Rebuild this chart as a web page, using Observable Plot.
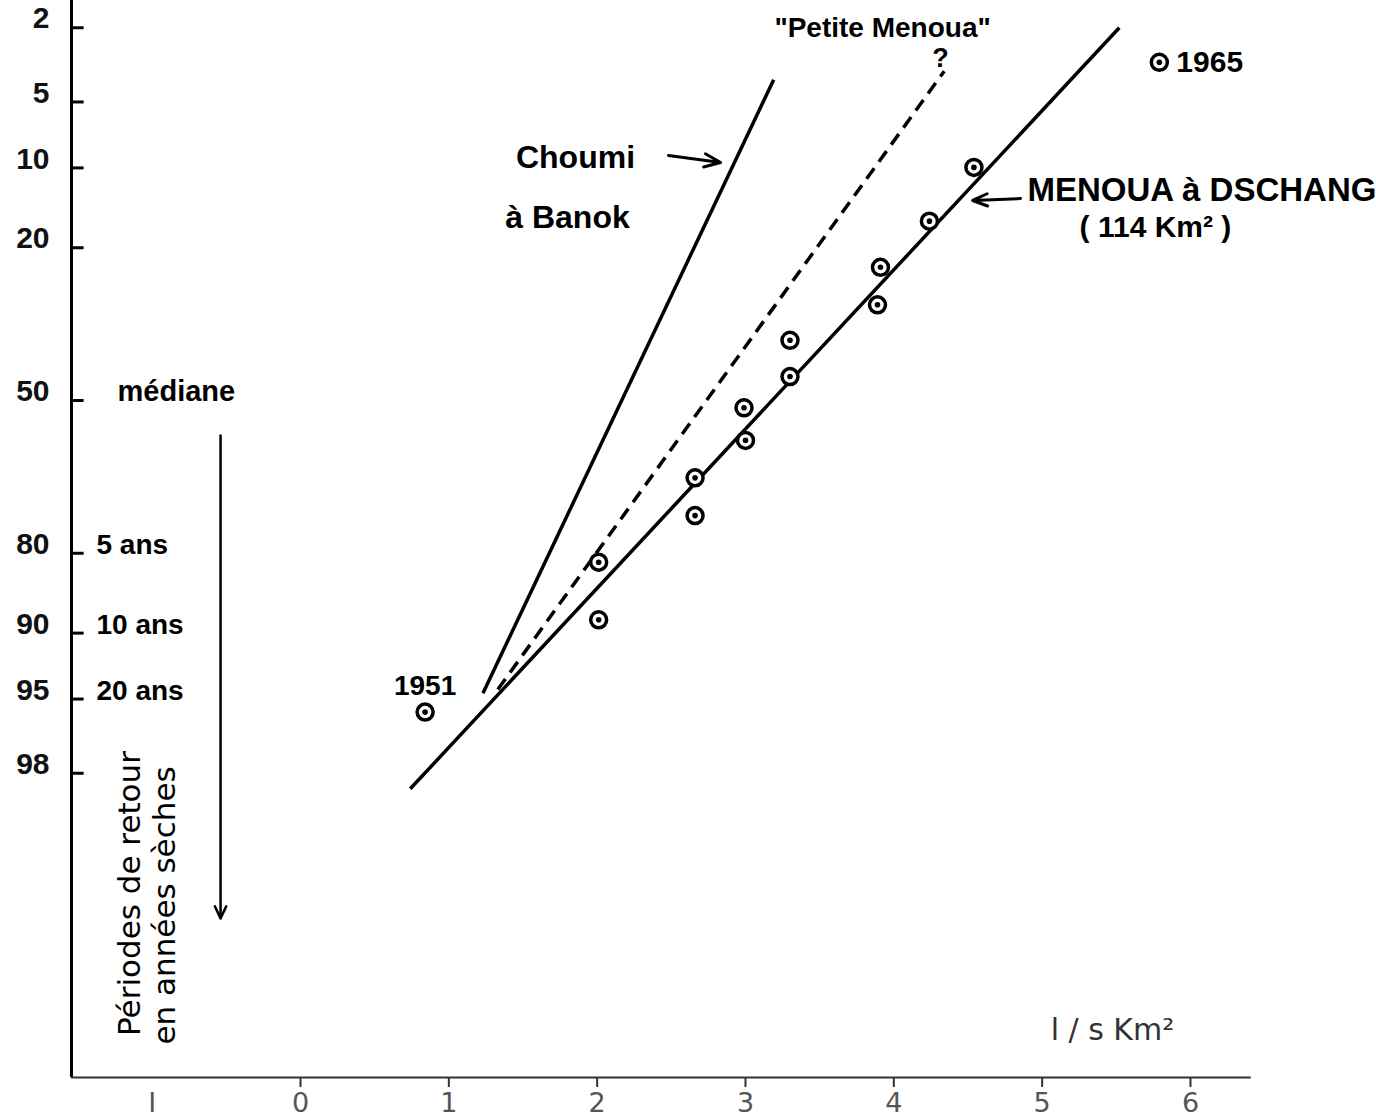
<!DOCTYPE html>
<html>
<head>
<meta charset="utf-8">
<script src="https://cdn.jsdelivr.net/npm/d3@7"></script>
<script src="https://cdn.jsdelivr.net/npm/@observablehq/plot@0.6"></script>
<style>
  html, body { margin: 0; padding: 0; background: #fff; }
  #chart svg { display: block; }
</style>
</head>
<body>
<div id="chart"></div>
<script>
// ---------- DATA ----------
// Observed dry-season specific discharges, Menoua à Dschang (l/s km²) and their frequencies (%)
const menouaQ    = [0.84, 2.01, 2.01, 2.66, 2.66, 2.99, 3.00, 3.30, 3.30, 3.91, 3.89, 4.24, 4.54, 5.79];
const menouaFreq = [95.7, 81.35, 88.65, 66.5, 73.7, 51.6, 58.7, 37.0, 44.75, 23.15, 29.9, 16.15, 9.95, 3.12];
const pointYears = ["1951", "", "", "", "", "", "", "", "", "", "", "", "", "1965"];

// Fitted lines (start / end): specific discharge and frequency
const lineNames  = ["MENOUA à DSCHANG", "Choumi à Banok", "Petite Menoua"];
const lineDashed = [false, false, true];
const lineQ1 = [0.74, 1.23, 1.33];
const lineF1 = [98.38, 94.66, 94.43];
const lineQ2 = [5.52, 3.19, 4.34];
const lineF2 = [2.0, 3.86, 3.48];

// Axis ticks
const freqTicks   = [2, 5, 10, 20, 50, 80, 90, 95, 98];
const periodLabels = ["5 ans", "10 ans", "20 ans"];
const periodFreq   = [80, 90, 95];
const qTickMarks  = [0, 1, 2, 3, 4, 5, 6];
const qTickValues = [-1, 0, 1, 2, 3, 4, 5, 6];
const qTickLabels = ["I", "0", "1", "2", "3", "4", "5", "6"];

// ---------- probability (Gauss) scale ----------
function probit(p) {
  const a = [-3.969683028665376e+01, 2.209460984245205e+02, -2.759285104469687e+02, 1.383577518672690e+02, -3.066479806614716e+01, 2.506628277459239e+00];
  const b = [-5.447609879822406e+01, 1.615858368580409e+02, -1.556989798598866e+02, 6.680131188771972e+01, -1.328068155288572e+01];
  const c = [-7.784894002430293e-03, -3.223964580411365e-01, -2.400758277161838e+00, -2.549732539343734e+00, 4.374664141464968e+00, 2.938163982698783e+00];
  const d = [7.784695709041462e-03, 3.224671290700398e-01, 2.445134137142996e+00, 3.754408661907416e+00];
  const pl = 0.02425, ph = 1 - pl;
  let q, r;
  if (p < pl) {
    q = Math.sqrt(-2 * Math.log(p));
    return (((((c[0]*q+c[1])*q+c[2])*q+c[3])*q+c[4])*q+c[5]) / ((((d[0]*q+d[1])*q+d[2])*q+d[3])*q+1);
  } else if (p <= ph) {
    q = p - 0.5; r = q * q;
    return (((((a[0]*r+a[1])*r+a[2])*r+a[3])*r+a[4])*r+a[5])*q / (((((b[0]*r+b[1])*r+b[2])*r+b[3])*r+b[4])*r+1);
  } else {
    q = Math.sqrt(-2 * Math.log(1 - p));
    return -(((((c[0]*q+c[1])*q+c[2])*q+c[3])*q+c[4])*q+c[5]) / ((((d[0]*q+d[1])*q+d[2])*q+d[3])*q+1);
  }
}
const P = f => probit(f / 100);

// scale extents
const X0 = -1.5439, X1 = 7.2541;     // l/s km²
const Z0 = -2.2039, Z1 = 3.7300;     // normal variate

// tables built from the arrays
const points = menouaQ.map((q, i) => ({q, z: P(menouaFreq[i]), year: pointYears[i]}));
const lines = lineNames.map((name, i) => ({
  name, dashed: lineDashed[i],
  x1: lineQ1[i], y1: P(lineF1[i]), x2: lineQ2[i], y2: P(lineF2[i])
}));

const BOLD = "'Liberation Sans', Arial, sans-serif";
const DJ = "'DejaVu Sans', sans-serif";

const chart = Plot.plot({
  width: 1376,
  height: 1119,
  marginLeft: 71,
  marginRight: 0,
  marginTop: 0,
  marginBottom: 42,
  x: {domain: [X0, X1], axis: null},
  y: {domain: [Z0, Z1], reverse: true, axis: null},
  style: {background: "#fff", color: "#000", fontFamily: BOLD},
  marks: [
    // axes lines
    Plot.ruleX([X0], {y1: Z0, y2: Z1, stroke: "#000", strokeWidth: 3}),
    Plot.ruleY([Z1], {x1: X0, x2: 6.41, stroke: "#333", strokeWidth: 2}),
    // y ticks (inward) and labels
    Plot.ruleY(freqTicks, {y: d => P(d), x1: X0, x2: X0 + 0.085, stroke: "#000", strokeWidth: 3}),
    Plot.text(freqTicks, {y: d => P(d), frameAnchor: "left", dx: -22, dy: -9, textAnchor: "end",
      text: d => String(d), fontSize: 30, fontWeight: "bold", fill: "#111"}),
    // return period labels
    Plot.text([50], {y: d => P(d), frameAnchor: "left", dx: 46, dy: -9, textAnchor: "start",
      text: () => "médiane", fontSize: 29, fontWeight: "bold"}),
    Plot.text(periodLabels, {y: (d, i) => P(periodFreq[i]), frameAnchor: "left", dx: 25, dy: -8, textAnchor: "start",
      text: d => d, fontSize: 28, fontWeight: "bold"}),
    // x ticks (outward) and labels
    Plot.ruleX(qTickMarks, {x: d => d, y1: Z1, y2: Z1 + 0.055, stroke: "#333", strokeWidth: 2}),
    Plot.text(qTickValues, {x: d => d, frameAnchor: "bottom", dy: 34, text: (d, i) => qTickLabels[i],
      fontSize: 27, fill: "#555", fontFamily: DJ}),
    Plot.text(["l / s Km²"], {x: 5.474, y: P(99.974), text: d => d, fontSize: 30, fill: "#333", fontFamily: DJ}),

    // rotated axis title and arrow
    Plot.text(["Périodes de retour"], {x: -1.146, y: P(99.670), text: d => d, rotate: -90, fontSize: 31, fontFamily: DJ}),
    Plot.text(["en années sèches"], {x: -0.910, y: P(99.730), text: d => d, rotate: -90, fontSize: 31, fontFamily: DJ}),
    Plot.arrow([0], {x1: -0.539, y1: P(57.65), x2: -0.539, y2: P(99.784), stroke: "#000", strokeWidth: 2.5, headLength: 8, headAngle: 50}),

    // fitted lines
    Plot.link(lines.filter(d => !d.dashed), {x1: "x1", y1: "y1", x2: "x2", y2: "y2", stroke: "#000", strokeWidth: 3.5}),
    Plot.link(lines.filter(d => d.dashed), {x1: "x1", y1: "y1", x2: "x2", y2: "y2", stroke: "#000", strokeWidth: 3.5, strokeDasharray: "13,8"}),

    // observations
    Plot.dot(points, {x: "q", y: "z", r: 8, stroke: "#000", strokeWidth: 3.5, fill: "#fff"}),
    Plot.dot(points, {x: "q", y: "z", r: 2.8, fill: "#000"}),
    Plot.text(points.filter(d => d.year === "1951"), {x: "q", y: "z", text: "year", dy: -26, fontSize: 28, fontWeight: "bold"}),
    Plot.text(points.filter(d => d.year === "1965"), {x: "q", y: "z", text: "year", dx: 17, textAnchor: "start", fontSize: 30, fontWeight: "bold"}),

    // annotations
    Plot.text(["Choumi"], {x: 1.854, y: P(9.03), text: d => d, fontSize: 32, fontWeight: "bold"}),
    Plot.text(["à Banok"], {x: 1.800, y: P(15.67), text: d => d, fontSize: 32, fontWeight: "bold"}),
    Plot.arrow([0], {x1: 2.481, y1: P(8.85), x2: 2.832, y2: P(9.49), stroke: "#000", strokeWidth: 3, headLength: 12, headAngle: 45}),
    Plot.text(["\"Petite Menoua\""], {x: 3.924, y: P(2.02), text: d => d, fontSize: 28, fontWeight: "bold"}),
    Plot.text(["?"], {x: 4.315, y: P(2.98), text: d => d, fontSize: 27, fontWeight: "bold"}),
    Plot.text(["MENOUA à DSCHANG"], {x: 4.901, y: P(12.36), text: d => d, textAnchor: "start", fontSize: 33, fontWeight: "bold"}),
    Plot.text(["( 114 Km² )"], {x: 5.764, y: P(17.03), text: d => d, fontSize: 30, fontWeight: "bold"}),
    Plot.arrow([0], {x1: 4.854, y1: P(13.29), x2: 4.531, y2: P(13.52), stroke: "#000", strokeWidth: 3, headLength: 12, headAngle: 45})
  ]
});

document.getElementById("chart").appendChild(chart);
</script>
</body>
</html>
